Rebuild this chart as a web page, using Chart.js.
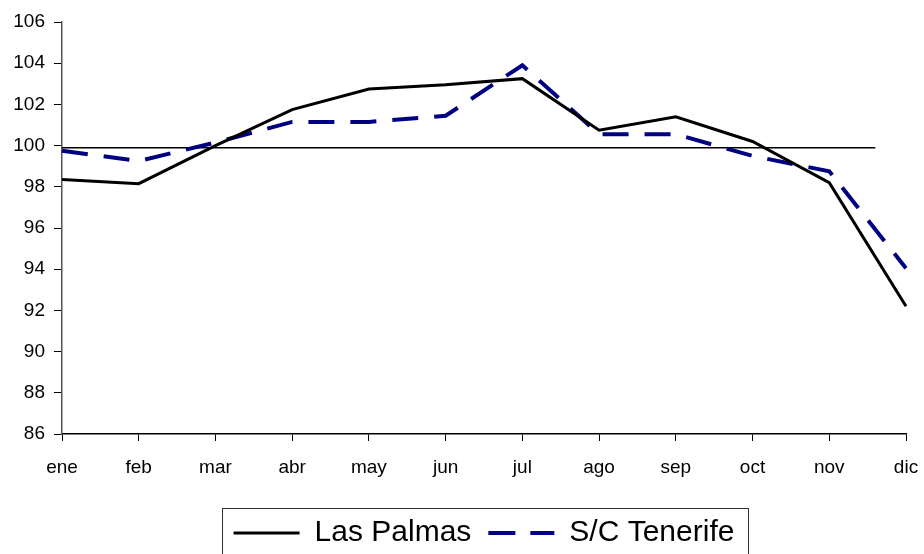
<!DOCTYPE html>
<html>
<head>
<meta charset="utf-8">
<script src="https://cdn.jsdelivr.net/npm/chart.js@4.4.0/dist/chart.umd.min.js"></script>
<style>
  html, body { margin: 0; padding: 0; background: #fff; }
  #wrap { width: 924px; height: 554px; }
</style>
</head>
<body>
<div id="wrap"><canvas id="chart" width="924" height="554"></canvas></div>
<script>
const months = ['ene', 'feb', 'mar', 'abr', 'may', 'jun', 'jul', 'ago', 'sep', 'oct', 'nov', 'dic'];
const lasPalmas = [98.35, 98.15, 100.0, 101.75, 102.75, 102.95, 103.25, 100.75, 101.4, 100.2, 98.2, 92.2];
const tenerife = [99.75, 99.25, 100.15, 101.15, 101.15, 101.45, 103.9, 100.55, 100.55, 99.5, 98.75, 94.05];
const yMin = 86, yMax = 106, yStep = 2;

// reference line at ~100, runs from ene to a bit before dic (category units)
const refLevel = 99.9;
const refSpan = [0, 10.6];

Chart.defaults.font.family = "'Liberation Sans', Arial, sans-serif";
Chart.defaults.color = '#000';

// box around the legend, like the excel one
const legendFrame = {
  id: 'legendFrame',
  afterDraw(chart) {
    const lg = chart.legend;
    const boxes = lg.legendHitBoxes;
    if (!boxes || !boxes.length) return;
    const last = boxes[boxes.length - 1];
    const left = Math.round(boxes[0].left - 12) + 0.5;
    const right = Math.round(last.left + last.width + 14) + 0.5;
    const top = Math.round(lg.top + 7) + 0.5;
    const ctx = chart.ctx;
    ctx.save();
    ctx.strokeStyle = '#333';
    ctx.lineWidth = 1;
    ctx.strokeRect(left, top, right - left, chart.height + 10 - top);
    ctx.restore();
  }
};

const ctx = document.getElementById('chart').getContext('2d');
new Chart(ctx, {
  type: 'line',
  data: {
    labels: months,
    datasets: [
      {
        label: 'Las Palmas',
        data: lasPalmas,
        borderColor: '#000',
        borderWidth: 3,
        pointRadius: 0,
        tension: 0
      },
      {
        label: 'S/C Tenerife',
        data: tenerife,
        borderColor: '#000080',
        borderWidth: 4,
        borderDash: [26, 16],
        pointRadius: 0,
        tension: 0
      },
      {
        label: 'ref',
        xAxisID: 'xr',
        data: refSpan.map(x => ({ x: x, y: refLevel })),
        borderColor: '#000',
        borderWidth: 1.5,
        pointRadius: 0
      }
    ]
  },
  options: {
    responsive: false,
    animation: false,
    layout: { padding: { top: 22, right: 18, left: 0, bottom: -4 } },
    plugins: {
      tooltip: { enabled: false },
      legend: {
        position: 'bottom',
        fullSize: false,
        labels: {
          filter: item => item.datasetIndex < 2,
          generateLabels: chart => {
            const items = Chart.defaults.plugins.legend.labels.generateLabels(chart);
            items.forEach(it => {
              const ds = chart.data.datasets[it.datasetIndex];
              it.lineDash = ds.borderDash ? [27, 15] : [];
              it.lineWidth = ds.borderWidth;
              it.strokeStyle = ds.borderColor;
            });
            return items;
          },
          usePointStyle: true,
          pointStyle: 'line',
          pointStyleWidth: 66,
          padding: 17,
          font: { size: 30 },
          color: '#000'
        }
      }
    },
    scales: {
      x: {
        afterFit: s => { s.height = 67; s.paddingLeft = 0; s.paddingRight = 0; },
        grid: { drawOnChartArea: false, tickLength: 7, tickColor: '#000' },
        border: { color: '#000', width: 1.5 },
        ticks: { font: { size: 19 }, padding: 15, maxRotation: 0, autoSkip: false }
      },
      xr: {
        type: 'linear',
        display: false,
        min: 0,
        max: months.length - 1
      },
      y: {
        min: yMin,
        max: yMax,
        afterFit: s => { s.width = 62; },
        grid: { drawOnChartArea: false, tickLength: 8, tickColor: '#000' },
        border: { color: '#555', width: 1.5 },
        ticks: { stepSize: yStep, font: { size: 19 }, padding: 9 }
      }
    }
  },
  plugins: [legendFrame]
});
</script>
</body>
</html>
